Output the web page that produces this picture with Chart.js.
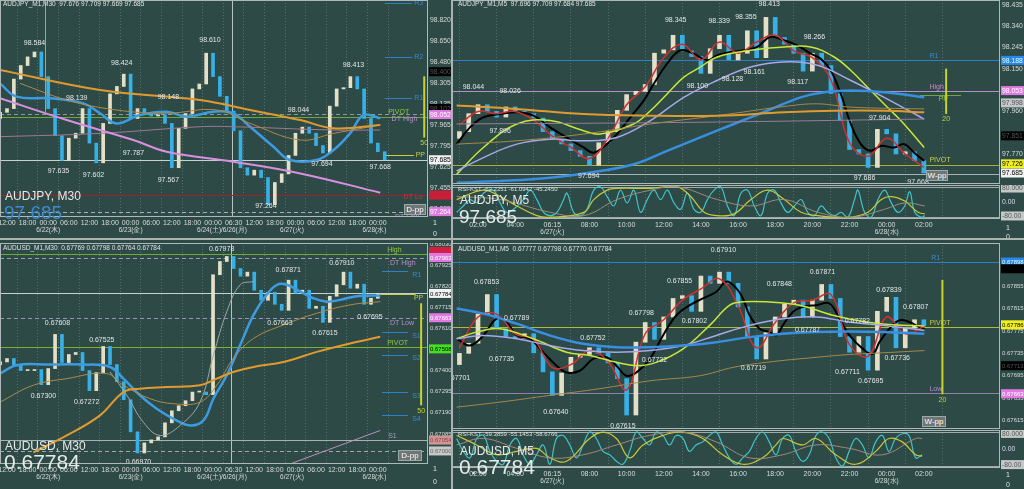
<!DOCTYPE html>
<html>
<head>
<meta charset="utf-8">
<script src="https://cdn.jsdelivr.net/npm/chart.js@4.4.0/dist/chart.umd.min.js"></script>
<style>
  body { margin:0; width:1024px; height:489px; background:#2d4a47; overflow:hidden; position:relative; font-family:"Liberation Sans", Arial, sans-serif; }
  canvas { position:absolute; }
  .t { position:absolute; color:#e6eae8; white-space:nowrap; z-index:5; }
  .hd { font-size:6.5px; color:#dfe3e1; }
  .sym { font-size:12px; }
  .big { font-size:19px; line-height:19px; }
  .box { position:absolute; background:#6f7675; color:#fff; font-size:8px; text-align:center; z-index:5; border:1px solid #9aa; }
  .sep { position:absolute; background:#a9b3b2; z-index:6; }
</style>
</head>
<body>
<canvas id="cA" width="452" height="238" style="left:0px;top:0px"></canvas>
<canvas id="cB" width="572" height="184" style="left:452px;top:0px"></canvas>
<canvas id="cBo" width="572" height="51" style="left:452px;top:185px"></canvas>
<canvas id="cC" width="452" height="242" style="left:0px;top:243px"></canvas>
<canvas id="cD" width="572" height="186" style="left:452px;top:243px"></canvas>
<canvas id="cDo" width="572" height="55" style="left:452px;top:430px"></canvas>

<div class="sep" style="left:0px;top:238px;width:1024px;height:2px"></div>
<div class="sep" style="left:451px;top:0px;width:2px;height:489px"></div>

<div class="t hd" style="left:3px;top:0px">AUDJPY_M1,M30&nbsp; 97.676 97.709 97.669 97.685</div>
<div class="t sym" style="left:5px;top:189px">AUDJPY, M30</div>
<div class="t big" style="left:4px;top:203px;color:#3a8bd6">97.685</div>
<div class="t hd" style="left:433px;top:219px;font-size:7px">1</div>
<div class="t hd" style="left:433px;top:230px;font-size:7px">0</div>
<div class="box" style="left:404px;top:204px;width:20px;height:9px;line-height:9px">D-pp</div>

<div class="t hd" style="left:458px;top:0px">AUDJPY_M1,M5&nbsp; 97.696 97.709 97.684 97.685</div>
<div class="t hd" style="left:458px;top:186px;font-size:6px">RSI-KST -63.2251 -61.0942 -45.2450</div>
<div class="t sym" style="left:460px;top:193px">AUDJPY, M5</div>
<div class="t big" style="left:459px;top:207px">97.685</div>
<div class="box" style="left:926px;top:170px;width:20px;height:9px;line-height:9px">W-pp</div>
<div class="t hd" style="left:1006px;top:224px;font-size:7px">1</div>
<div class="t hd" style="left:1006px;top:233px;font-size:7px">0</div>

<div class="t hd" style="left:3px;top:244px">AUDUSD_M1,M30&nbsp; 0.67769 0.67798 0.67764 0.67784</div>
<div class="t sym" style="left:5px;top:439px">AUDUSD, M30</div>
<div class="t big" style="left:4px;top:452px;font-size:21px">0.67784</div>
<div class="box" style="left:398px;top:450px;width:22px;height:9px;line-height:9px">D-pp</div>
<div class="t hd" style="left:433px;top:465px;font-size:7px">1</div>
<div class="t hd" style="left:433px;top:478px;font-size:7px">0</div>

<div class="t hd" style="left:458px;top:245px">AUDUSD_M1,M5&nbsp; 0.67777 0.67798 0.67770 0.67784</div>
<div class="t hd" style="left:458px;top:431px;font-size:6px">RSI-KST -59.3859 -55.1453 -58.6766</div>
<div class="t sym" style="left:460px;top:444px">AUDUSD, M5</div>
<div class="t big" style="left:459px;top:457px;font-size:21px">0.67784</div>
<div class="box" style="left:922px;top:416px;width:22px;height:9px;line-height:9px">W-pp</div>
<div class="t hd" style="left:1006px;top:471px;font-size:7px">1</div>
<div class="t hd" style="left:1006px;top:481px;font-size:7px">0</div>

<script>
const FONT = '"Liberation Sans", Arial, sans-serif';
const CANDLE_UP = '#e4e0c8';
const CANDLE_DN = '#38b0e6';

// ---------- time axes (hours) ----------
const m30TickHours = [0, 6, 12, 18, 24, 30, 36, 42, 48, 54, 60, 66, 72, 78, 84, 90, 96, 102, 108];
const m30TickLabels = ['12:00','18:00','00:00','06:00','12:00','18:00','00:00','06:00','12:00','18:00','00:00','06:30','12:00','18:00','00:00','06:00','12:00','18:00','00:00'];
const m30DateHours = [12, 36, 62.6, 83, 107];
const m30DateLabels = ['6/22(木)', '6/23(金)', '6/24(土)/6/26(月)', '6/27(火)', '6/28(水)'];

const m5TickHours = [2, 4, 6, 8, 10, 12, 14, 16, 18, 20, 22, 24, 26];
const m5TickLabels = ['02:00','04:00','06:15','08:00','10:00','12:00','14:00','16:00','18:00','20:00','22:00','00:00','02:00'];
const m5DateHours = [6, 24];
const m5DateLabels = ['6/27(火)', '6/28(水)'];

// ---------- AUDJPY M30 ----------
const ajM30Hours = [-2,0,2,4,6,8,10,12,14,16,18,20,22,24,26,28,30,32,34,36,38,40,42,44,46,48,50,52,54,56,58,60,62,64,66,68,70,72,74,76,78,80,82,84,86,88,90,92,94,96,98,100,102,104,106,108,110];
const ajM30Close = [98.07,98.10,98.34,98.45,98.52,98.56,98.36,98.10,97.88,97.68,97.86,97.90,98.10,97.82,97.66,97.98,98.22,98.28,98.38,98.02,98.10,98.06,98.04,98.05,97.98,97.62,97.94,98.06,98.26,98.30,98.55,98.36,98.20,98.08,97.92,97.62,97.56,97.60,97.54,97.32,97.50,97.57,97.72,97.90,97.95,97.90,97.80,97.74,98.12,98.26,98.27,98.36,98.26,98.02,97.82,97.75,97.685];
const ajM30Orange = { h: [-2.04,27.1,56.2,70.8,85.4,95.1,108.7], v: [98.414,98.251,98.170,98.089,98.007,97.940,97.967] };
const ajM30Pink = { h: [-2.04,17.4,36.8,46.5,65.9,85.4,108.7], v: [98.184,98.007,97.845,97.750,97.669,97.574,97.417] };
const ajM30Blue = { h: [-2.04,2.8,12.5,22.2,27.1,31.9,38.7,46.5,52.3,60.1,65.9,70.8,77.6,82.4,90.2,95.1,99.9,103.8,108.7],
                    v: [98.305,98.197,98.184,98.143,98.062,97.980,98.048,98.075,98.035,98.075,98.062,97.953,97.791,97.683,97.683,97.764,97.899,98.048,98.021] };
const ajM30Tan = { h: [3.8,17.4,31.9,46.5,61.1,70.8,85.4,95.1,108.7], v: [98.305,98.170,98.089,98.062,98.089,97.980,97.845,97.899,97.967] };
const ajM30Purple = { h: [-2.04,27.1,56.2,65.9,95.1,108.7], v: [97.872,97.899,97.953,97.953,97.926,97.926] };
const ajM30YTicks = [98.820,98.650,98.480,98.305,98.135,97.965,97.795,97.625,97.455,97.285];
const ajM30LevelVals = [98.955,98.516,98.189,98.054,98.035,97.726,97.685,97.398,97.263];
const ajM30LevelNames = ['R3','R2','R1','DT High','PIVOT','PP','','DT Lo','DT Low'];
const ajM30PeakHours = [8,20.3,33.4,47,59.1,84.9,100.9,15,25.2,36.8,47,75.4,91.7,108.7];
const ajM30PeakVals = [98.584,98.139,98.424,98.148,98.610,98.044,98.413,97.635,97.602,97.787,97.567,97.264,97.694,97.668];
const ajM30PeakUp = [1,1,1,1,1,1,1,0,0,0,0,1,0,0];
const ajM30TagVals = [98.400,98.102,98.052,97.685,97.398,97.264];
const ajM30Range = { h: 121.5, from: 98.362, to: 97.865, text: '50' };

// ---------- AUDJPY M5 ----------
const ajM5Hours = [1,1.5,2,2.5,3,3.5,4,4.5,5,5.5,6,6.5,7,7.5,8,8.5,9,9.5,10,10.5,11,11.5,12,12.5,13,13.5,14,14.5,15,15.5,16,16.5,17,17.5,18,18.5,19,19.5,20,20.5,21,21.5,22,22.5,23,23.5,24,24.5,25,25.5,26];
const ajM5Close = [97.87,97.95,97.99,97.96,97.935,97.98,97.96,97.95,97.93,97.87,97.835,97.815,97.785,97.76,97.72,97.82,97.87,97.965,98.035,98.05,98.08,98.22,98.235,98.30,98.23,98.205,98.13,98.24,98.30,98.19,98.22,98.32,98.20,98.38,98.29,98.26,98.22,98.14,98.22,98.165,98.04,97.92,97.79,97.77,97.71,97.88,97.86,97.77,97.78,97.74,97.685];
const ajM5Black = { h: [0.85,1.57,2.29,3.19,4.09,4.99,5.88,6.78,7.68,8.22,8.94,9.48,10.2,10.92,11.46,12.18,12.9,13.61,14.33,14.87,15.59,16.31,17.03,17.75,18.47,19.19,19.91,20.45,20.99,21.53,22.07,22.61,23.14,23.68,24.4,24.94,25.48,26.02],
                    v: [97.814,97.889,97.934,97.948,97.956,97.941,97.889,97.844,97.799,97.776,97.814,97.859,97.934,98.008,98.083,98.173,98.233,98.218,98.188,98.210,98.225,98.233,98.248,98.293,98.278,98.255,98.218,98.195,98.143,98.038,97.904,97.814,97.784,97.806,97.799,97.814,97.776,97.739] };
const ajM5Red = { h: [1,2,3,4,5,6,7,8,9,10,11,12,13,14,15,16,17,18,19,20,21,22,23,24,25,26],
                  v: [97.90,97.96,97.95,97.96,97.92,97.85,97.80,97.75,97.84,97.99,98.07,98.20,98.26,98.19,98.27,98.22,98.27,98.30,98.23,98.20,98.10,97.82,97.76,97.84,97.77,97.71] };
const ajM5Lime = { h: [0.85,2.29,4.09,5.88,7.68,8.58,10.38,11.28,12.18,13.08,13.97,14.87,16.67,18.47,19.91,21.17,22.07,22.97,23.86,24.76,26.02],
                   v: [97.679,97.799,97.904,97.919,97.874,97.859,97.904,97.963,98.038,98.113,98.158,98.203,98.233,98.248,98.248,98.203,98.143,98.068,97.993,97.919,97.799] };
const ajM5Lavender = { h: [0.85,2.29,4.09,5.88,7.68,9.48,11.28,13.08,14.87,16.67,18.47,20.27,22.07,23.86,26.02],
                       v: [97.694,97.754,97.814,97.836,97.829,97.844,97.919,98.023,98.098,98.158,98.181,98.166,98.098,98.023,97.926] };
const ajM5Blue = { h: [0.85,3.19,5.88,8.58,10.38,12.18,13.97,15.77,17.57,19.37,20.63,22.07,23.86,26.02],
                   v: [97.642,97.649,97.664,97.694,97.724,97.784,97.844,97.904,97.963,98.023,98.046,98.053,98.046,98.023] };
const ajM5Orange = { h: [0.85,4.09,7.68,11.28,14.87,18.47,21.17,23.86,26.02], v: [97.986,97.971,97.948,97.941,97.941,97.956,97.963,97.963,97.956] };
const ajM5Brown = { h: [0.85,4.09,7.68,11.28,14.87,18.47,20.27,22.07,26.02], v: [97.814,97.829,97.859,97.904,97.941,97.982,97.994,97.979,97.971] };
const ajM5Purple = { h: [0.85,13.08,26.02], v: [97.904,97.911,97.926] };
const ajM5YTicks = [98.435,98.340,98.245,98.150,97.960,97.770];
const ajM5LevelVals = [98.188,98.053,98.035,97.721,97.682];
const ajM5LevelNames = ['R1','High','PP','PIVOT',''];
const ajM5PeakHours = [1.75,3.73,3.19,7.96,12.64,13.81,14.98,15.7,16.42,16.87,17.68,19.21,20.11,23.62,22.81,25.69];
const ajM5PeakVals = [98.044,98.026,97.896,97.694,98.345,98.100,98.339,98.128,98.355,98.161,98.413,98.117,98.266,97.904,97.686,97.668];
const ajM5PeakUp = [1,1,0,0,1,0,1,0,1,0,1,0,1,1,0,0];
const ajM5TagVals = [98.188,98.053,97.998,97.851,97.726,97.685];
const ajM5Range = { h: 27.2, from: 98.151, to: 97.949, text: '20' };
const ajM5OscCyan = { h: [0.85,1.21,1.57,1.93,2.29,2.83,3.19,3.55,3.91,4.45,4.81,5.17,5.53,5.89,6.25,6.61,6.79,7.15,7.51,7.87,8.23,8.59,8.95,9.31,9.67,10.03,10.39,10.75,11.11,11.47,11.83,12.19,12.55,12.91,13.27,13.63,13.99,14.35,14.71,15.07,15.43,15.79,16.15,16.51,16.87,17.23,17.59,17.95,18.31,18.67,19.03,19.39,19.75,20.11,20.47,20.83,21.19,21.55,21.91,22.27,22.45,22.81,23.17,23.53,23.89,24.25,24.61,24.97,25.24,25.51,25.87,26.05],
                      v: [16,37,58,47,79,89,47,16,26,58,89,58,16,5,16,58,79,16,5,26,89,100,68,37,89,47,89,16,58,89,58,89,47,26,79,26,16,58,89,100,37,5,79,89,37,5,79,89,47,16,37,58,16,5,37,16,5,16,0,58,89,16,0,58,89,47,16,37,84,16,0,5] };
const ajM5OscYellow = { h: [0.85,2.29,3.19,4.09,5.17,5.89,7.69,8.23,8.95,9.49,11.29,12.73,13.45,14.17,14.89,15.79,16.69,17.59,18.49,19.39,20.29,21.19,22.09,22.99,23.71,24.25,24.97,25.69,26.05],
                        v: [58,89,68,37,5,0,16,58,89,95,95,100,68,16,5,11,58,89,58,16,5,0,0,16,58,68,53,16,11] };
const ajM5OscGray = { h: [0.85,3.19,5.89,7.69,9.49,11.29,12.73,14.89,16.69,18.49,20.29,22.09,23.89,24.97,26.05],
                      v: [68,58,16,5,58,89,100,58,37,58,16,0,26,47,37] };

// ---------- AUDUSD M30 ----------
const auM30Hours = [-2,0,2,4,6,8,10,12,14,16,18,20,22,24,26,28,30,32,34,36,38,40,42,44,46,48,50,52,54,56,58,60,62,64,66,68,70,72,74,76,78,80,82,84,86,88,90,92,94,96,98,100,102,104,106,108];
const auM30Close = [0.67443,0.67460,0.67427,0.67400,0.67400,0.67405,0.67330,0.67410,0.67580,0.67440,0.67480,0.67490,0.67400,0.67300,0.67390,0.67520,0.67430,0.67345,0.67255,0.67095,0.66990,0.67040,0.67055,0.67070,0.67140,0.67200,0.67225,0.67250,0.67293,0.67293,0.67280,0.67877,0.67943,0.67968,0.67908,0.67870,0.67890,0.67800,0.67750,0.67790,0.67730,0.67700,0.67850,0.67785,0.67800,0.67710,0.67720,0.67640,0.67770,0.67827,0.67890,0.67810,0.67830,0.67730,0.67760,0.67784];
const auM30Blue = { h: [-2.04,2.82,12.5,22.2,30,33.9,38.7,43.6,48.5,53.3,57.2,60.1,64,67.9,71.8,75.6,78.6,81.5,85.4,89.2,93.1,97,100.9,104.8,108.7],
                    v: [0.67385,0.67427,0.67430,0.67430,0.67418,0.67360,0.67277,0.67210,0.67160,0.67127,0.67152,0.67260,0.67377,0.67527,0.67677,0.67777,0.67827,0.67827,0.67793,0.67760,0.67743,0.67752,0.67768,0.67773,0.67773] };
const auM30Orange = { h: [7.67,17.4,27.1,33.9,38.7,46.5,56.2,61.1,65.9,71.8,80.5,90.2,99.9,108.7],
                      v: [0.66993,0.67077,0.67177,0.67293,0.67310,0.67318,0.67327,0.67360,0.67393,0.67418,0.67443,0.67493,0.67535,0.67568] };
const auM30Tan = { h: [-2.04,7.67,17.4,29,33.9,41.7,48.5,56.2,61.1,65.9,71.8,80.5,90.2,99.9,108.7],
                   v: [0.67243,0.67327,0.67360,0.67385,0.67327,0.67260,0.67235,0.67243,0.67327,0.67460,0.67560,0.67627,0.67685,0.67727,0.67743] };
const auM30Gray = { h: [30,34.9,39.7,44.6,50.4,56.2,60.1,64,67.9,71.8], v: [0.67393,0.67277,0.67143,0.67077,0.67127,0.67243,0.67477,0.67693,0.67827,0.67843] };
const auM30Pink = { h: [82.4,108.7], v: [0.66935,0.67102] };
const auM30YTicks = [0.68030,0.67925,0.67820,0.67715,0.67610,0.67505,0.67400,0.67295,0.67190,0.67085];
const auM30LevelVals = [0.67980,0.67960,0.67897,0.67784,0.67780,0.67663,0.67593,0.67518,0.67480,0.67293,0.67180,0.67055,0.67000];
const auM30LevelNames = ['High','DT High','R1','','PP','DT Low','S1','PIVOT','S2','S3','S4','S1',''];
const auM30PeakHours = [14.7,10.6,27.6,23.2,38.3,62.5,81.9,79.5,92.6,97.5,105.7];
const auM30PeakVals = [0.67608,0.67300,0.67525,0.67272,0.66970,0.67978,0.67871,0.67663,0.67615,0.67910,0.67695];
const auM30PeakUp = [1,0,1,0,0,1,1,0,0,1,0];
const auM30TagVals = [0.67993,0.67963,0.67784,0.67663,0.67508,0.67054,0.67000];
const auM30Range = { h: 120.6, from: 0.67735, to: 0.67227, text: '50' };

// ---------- AUDUSD M5 ----------
const auM5Hours = ajM5Hours;
const auM5Close = [0.67735,0.67753,0.67805,0.67840,0.67779,0.67765,0.67762,0.67770,0.67736,0.67702,0.67660,0.67700,0.67728,0.67733,0.67745,0.67735,0.67718,0.67690,0.67625,0.67755,0.67790,0.67760,0.67800,0.67833,0.67838,0.67810,0.67873,0.67860,0.67880,0.67860,0.67818,0.67765,0.67725,0.67772,0.67800,0.67823,0.67830,0.67800,0.67830,0.67858,0.67833,0.67765,0.67737,0.67765,0.67705,0.67810,0.67835,0.67745,0.67780,0.67795,0.67784];
const auM5Black = { h: [0.85,1.57,2.29,3,3.54,4.08,4.8,5.51,6.23,6.77,7.48,8.2,8.92,9.45,9.99,10.53,11.25,11.96,12.68,13.4,14.11,14.83,15.37,15.91,16.26,16.62,17.16,17.7,18.06,18.41,18.95,19.49,20.21,20.92,21.46,22,22.72,23.25,23.61,24.15,24.69,25.22,25.76,26.03],
                    v: [0.67761,0.67749,0.67767,0.67797,0.67791,0.67767,0.67761,0.67737,0.67713,0.67701,0.67704,0.67725,0.67728,0.67713,0.67695,0.67701,0.67725,0.67767,0.67803,0.67821,0.67833,0.67845,0.67863,0.67851,0.67833,0.67803,0.67779,0.67773,0.67767,0.67785,0.67809,0.67818,0.67821,0.67824,0.67797,0.67767,0.67743,0.67734,0.67755,0.67779,0.67794,0.67791,0.67782,0.67779] };
const auM5Red = { h: [1,2,3,4,5,6,7,8,9,10,11,12,13,14,15,16,17,18,19,20,21,22,23,24,25,26],
                  v: [0.67745,0.67800,0.67805,0.67770,0.67760,0.67710,0.67715,0.67740,0.67720,0.67670,0.67770,0.67795,0.67830,0.67850,0.67868,0.67820,0.67745,0.67790,0.67825,0.67830,0.67840,0.67750,0.67730,0.67800,0.67770,0.67783] };
const auM5Lime = { h: [0.85,1.93,3.18,4.97,6.77,8.02,9.45,10.53,11.6,13.04,14.47,15.55,16.26,17.52,19.31,21.1,22.89,24.33,26.03],
                   v: [0.67761,0.67773,0.67779,0.67761,0.67737,0.67731,0.67719,0.67713,0.67719,0.67743,0.67785,0.67821,0.67827,0.67827,0.67821,0.67803,0.67791,0.67786,0.67784] };
const auM5Lavender = { h: [0.85,2.29,4.08,5.87,7.66,9.45,11.25,13.04,14.83,16.62,18.41,20.21,22,23.79,26.03],
                       v: [0.67761,0.67767,0.67761,0.67749,0.67740,0.67737,0.67740,0.67749,0.67767,0.67785,0.67797,0.67800,0.67791,0.67785,0.67776] };
const auM5Blue = { h: [0.85,2.29,4.08,5.87,7.66,9.45,11.25,13.04,14.83,16.62,18.41,20.21,22,23.79,26.03],
                   v: [0.67815,0.67806,0.67788,0.67767,0.67752,0.67746,0.67746,0.67749,0.67755,0.67764,0.67770,0.67773,0.67774,0.67773,0.67770] };
const auM5Brown = { h: [0.85,3.18,5.87,8.56,11.25,13.93,15.73,17.52,20.21,22,23.79,26.03],
                    v: [0.67639,0.67648,0.67660,0.67672,0.67686,0.67695,0.67710,0.67719,0.67728,0.67733,0.67736,0.67740] };
const auM5YTicks = [0.67855,0.67815,0.67775,0.67735,0.67695,0.67655,0.67615];
const auM5LevelVals = [0.67898,0.67782,0.67664];
const auM5LevelNames = ['R1','PIVOT','Low'];
const auM5PeakHours = [2.46,0.9,4.08,3.27,8.19,6.19,9.8,10.79,11.5,12.85,13.65,15.21,16.82,18.22,19.74,20.54,22.42,21.89,23.14,24.12,24.57,25.56];
const auM5PeakVals = [0.67853,0.67701,0.67789,0.67735,0.67752,0.67640,0.67615,0.67798,0.67732,0.67855,0.67802,0.67910,0.67719,0.67848,0.67787,0.67871,0.67782,0.67711,0.67695,0.67839,0.67736,0.67807];
const auM5PeakUp = [1,0,1,0,1,0,0,1,0,1,0,1,0,1,0,1,1,0,0,1,0,1];
const auM5TagVals = [0.67898,0.67886,0.67786,0.67713,0.67663];
const auM5Range = { h: 27.0, from: 0.67866, to: 0.67662, text: '20' };
const auM5OscCyan = { h: [0.85,1.21,1.57,1.93,2.29,2.64,3,3.36,3.72,4.08,4.43,4.79,5.15,5.51,5.87,6.22,6.58,6.94,7.3,7.66,8.01,8.37,8.73,9.09,9.45,9.8,10.16,10.52,10.88,11.24,11.59,11.95,12.31,12.67,13.03,13.38,13.74,14.1,14.46,14.82,15.17,15.53,15.89,16.25,16.61,16.96,17.32,17.68,18.04,18.4,18.75,19.11,19.47,19.83,20.19,20.54,20.9,21.26,21.62,21.98,22.33,22.69,23.05,23.41,23.77,24.12,24.48,24.84,25.2,25.56,25.91],
                      v: [81,43,24,81,90,43,14,5,62,81,33,5,33,62,5,81,90,62,24,62,100,81,43,33,14,5,43,100,81,62,100,90,62,90,81,43,62,71,90,100,62,24,5,24,43,81,100,71,33,81,90,43,14,33,90,100,81,24,0,43,81,62,24,71,90,43,81,95,90,24,33] };
const auM5OscYellow = { h: [0.85,1.93,3,4.08,5.15,5.87,6.76,8.01,8.73,9.45,10.16,10.88,11.95,13.03,14.1,15.17,16.25,17.32,18.04,18.4,19.47,20.19,21.26,22.33,23.41,24.12,24.84,25.56,25.91],
                        v: [90,62,33,43,52,24,14,81,100,81,24,62,90,100,81,33,5,24,62,81,62,81,33,5,43,81,71,33,29] };
const auM5OscGray = { h: [0.85,2.29,4.08,5.87,7.66,9.45,11.24,13.03,14.82,16.61,18.4,20.19,21.98,23.77,25.56,25.91],
                      v: [62,81,52,24,33,62,90,100,71,24,33,62,52,33,81,81] };

// ---------- styles ----------
const BLUE_LVL = '#2f80c8';
const ajM30LevelStyle = [
  { c: BLUE_LVL, h0: 110, h1: 118, lh: 118.6, dy: 0, lc: '#3a8ad0' },
  { c: BLUE_LVL, h0: 110, h1: 118, lh: 118.6, dy: 0, lc: '#3a8ad0' },
  { c: BLUE_LVL, h0: 110, h1: 118, lh: 118.6, dy: 0, lc: '#3a8ad0' },
  { c: '#8f96a0', dash: [4, 3], lh: 112, dy: 5, lc: '#b890d0' },
  { c: '#6fa83a', lh: 111, dy: -5, lc: '#8cc840' },
  { c: '#c8d040', h0: 109.5, h1: 118.5, lh: 119, dy: 0, lc: '#c8d040' },
  { c: '#c8d0d0' },
  { c: '#a0202c', lh: 115.5, dy: 2, lc: '#d03040' },
  { c: '#b0b0b8', dash: [4, 3], lh: 113, dy: 5, lc: '#b890d0' }
];
const ajM30TagStyle = [
  { bg: '#000', fg: '#555' }, { bg: '#000', fg: '#555' }, { bg: '#e07ae0', fg: '#fff' },
  { bg: '#f2f2f2', fg: '#000' }, { bg: '#c8203a', fg: '#c8203a' }, { bg: '#e07ae0', fg: '#fff' }
];
const ajM5LevelStyle = [
  { c: BLUE_LVL, lh: 26.3, dy: -4, lc: '#3a8ad0' },
  { c: '#b090c8', lh: 26.3, dy: -4, lc: '#d080d8' },
  { c: '#6fa83a', h0: 25.8, h1: 28, lh: 26.8, dy: 4, lc: '#8cc840' },
  { c: '#a8b030', lh: 26.3, dy: -5, lc: '#d0d040' },
  { c: '#a8b0b0' }
];
const ajM5TagStyle = [
  { bg: '#2a86e8', fg: '#dfe' }, { bg: '#e07ae0', fg: '#fff' }, { bg: '#c4c8c8', fg: '#555' },
  { bg: '#000', fg: '#555' }, { bg: '#f0f020', fg: '#000' }, { bg: '#f2f2f2', fg: '#000' }
];
const auM30LevelStyle = [
  { c: '#6fa83a', lh: 110.7, dy: -4, lc: '#8cc840' },
  { c: '#9aa0ac', dash: [4, 3], lh: 111.5, dy: 5, lc: '#b890d0' },
  { c: BLUE_LVL, h0: 109.2, h1: 116.8, lh: 118, dy: 4, lc: '#3a8ad0' },
  { c: '#c8d0d0' },
  { c: '#c8d040', h0: 108.7, h1: 119, lh: 118.5, dy: 4, lc: '#c8d040' },
  { c: '#a090c0', dash: [4, 3], lh: 111.5, dy: 5, lc: '#b890d0' },
  { c: BLUE_LVL, h0: 109.2, h1: 116.8, lh: 118, dy: 4, lc: '#3a8ad0' },
  { c: '#7ab030', lh: 110.7, dy: -4, lc: '#8cc840' },
  { c: BLUE_LVL, h0: 109.2, h1: 116.8, lh: 118, dy: 4, lc: '#3a8ad0' },
  { c: BLUE_LVL, h0: 109.2, h1: 116.8, lh: 118, dy: 4, lc: '#3a8ad0' },
  { c: BLUE_LVL, h0: 109.2, h1: 116.8, lh: 118, dy: 4, lc: '#3a8ad0' },
  { c: '#a8b0b0', lh: 111, dy: -4, lc: '#9aa' },
  { c: '#a0a8a8', dash: [4, 3] }
];
const auM30TagStyle = [
  { bg: '#d02040', fg: '#d02040' }, { bg: '#e07ae0', fg: '#fff' }, { bg: '#f2f2f2', fg: '#000' },
  { bg: '#e07ae0', fg: '#fff' }, { bg: '#44e020', fg: '#000' }, { bg: '#d09494', fg: '#844' }, { bg: '#c8c8c8', fg: '#666' }
];
const auM5LevelStyle = [
  { c: BLUE_LVL, lh: 26.4, dy: -4, lc: '#3a8ad0' },
  { c: '#b0b840', lh: 26.3, dy: -4, lc: '#c8c840' },
  { c: '#9080b0', lh: 26.3, dy: -4, lc: '#b890d0' }
];
const auM5TagStyle = [
  { bg: '#2a86e8', fg: '#dfe' }, { bg: '#000', fg: '#000' }, { bg: '#f0f020', fg: '#000' },
  { bg: '#000', fg: '#555' }, { bg: '#e07ae0', fg: '#fff' }
];
const oscTagVals = [96, 50, 4];
const oscTagText = ['80.000', '0.00', '-80.00'];
const oscTagStyle = [{ bg: '#c4c8c8', fg: '#555' }, { bg: null, fg: '#dde' }, { bg: '#c4c8c8', fg: '#555' }];

// ---------- helpers ----------
function line(src, color, width) {
  return { type: 'line', order: 1, data: src.h.map((h, i) => ({ x: h, y: src.v[i] })),
    borderColor: color, borderWidth: width, pointRadius: 0, tension: 0.4, fill: false };
}
function candles(hours, closes, open0, bw) {
  return { type: 'bar', order: 5, barThickness: bw, grouped: false, borderWidth: 0, minBarLength: 1,
    data: hours.map((h, i) => ({ x: h, y: [i ? closes[i - 1] : open0, closes[i]] })),
    backgroundColor: c => { const r = c.raw; return r && r.y[1] >= r.y[0] ? CANDLE_UP : CANDLE_DN; } };
}
function levels(vals, names, styles) {
  return vals.map((v, i) => Object.assign({ v, t: names[i] }, styles[i]));
}
function peaks(hs, vs, ups) { return hs.map((h, i) => ({ h, v: vs[i], up: ups[i] })); }
function tags(vals, styles, texts, dec) {
  return vals.map((v, i) => Object.assign({ v, t: texts ? texts[i] : v.toFixed(dec) }, styles[i]));
}

function overlay(o) {
  const axisFont = (o.dec > 3 ? '6px ' : '6.8px ') + FONT;
  return {
    id: 'overlay',
    beforeDatasetsDraw(chart) {
      const { ctx, chartArea: a, scales: { x, y } } = chart;
      ctx.save();
      ctx.beginPath(); ctx.rect(a.left, a.top, a.right - a.left, a.bottom - a.top); ctx.clip();
      (o.vlines || []).forEach(vl => {
        const px = Math.round(x.getPixelForValue(vl.h)) + 0.5;
        ctx.strokeStyle = vl.c; ctx.lineWidth = 1; ctx.setLineDash([]);
        ctx.beginPath(); ctx.moveTo(px, a.top);
        ctx.lineTo(px, vl.to == null ? a.bottom : y.getPixelForValue(vl.to)); ctx.stroke();
      });
      (o.levels || []).forEach(l => {
        const py = Math.round(y.getPixelForValue(l.v)) + 0.5;
        const x0 = l.h0 == null ? a.left : x.getPixelForValue(l.h0);
        const x1 = l.h1 == null ? a.right : x.getPixelForValue(l.h1);
        ctx.strokeStyle = l.c; ctx.lineWidth = 1; ctx.setLineDash(l.dash || []);
        ctx.beginPath(); ctx.moveTo(x0, py); ctx.lineTo(x1, py); ctx.stroke();
      });
      ctx.restore();
    },
    afterDatasetsDraw(chart) {
      const { ctx, chartArea: a, scales: { x, y } } = chart;
      ctx.save();
      ctx.beginPath(); ctx.rect(a.left, a.top, a.right - a.left, a.bottom - a.top); ctx.clip();
      ctx.font = '7px ' + FONT; ctx.textAlign = 'center';
      (o.peaks || []).forEach(p => {
        const px = x.getPixelForValue(p.h), py = y.getPixelForValue(p.v);
        ctx.fillStyle = '#e4e8e6';
        ctx.textBaseline = p.up ? 'bottom' : 'top';
        ctx.fillText(p.v.toFixed(o.dec), px, p.up ? py - 2 : py + 2);
      });
      ctx.textAlign = 'left'; ctx.textBaseline = 'middle';
      (o.levels || []).forEach(l => {
        if (!l.t || l.lh == null) return;
        ctx.fillStyle = l.lc;
        ctx.fillText(l.t, x.getPixelForValue(l.lh), y.getPixelForValue(l.v) + l.dy);
      });
      if (o.range) {
        const r = o.range, px = x.getPixelForValue(r.h);
        ctx.strokeStyle = '#c8d428'; ctx.lineWidth = 2;
        ctx.beginPath(); ctx.moveTo(px, y.getPixelForValue(r.from)); ctx.lineTo(px, y.getPixelForValue(r.to)); ctx.stroke();
        ctx.fillStyle = '#c8d428'; ctx.textAlign = 'center'; ctx.textBaseline = 'top';
        ctx.fillText(r.text, px, y.getPixelForValue(r.to) + 2);
      }
      ctx.restore();
    },
    afterDraw(chart) {
      const { ctx, chartArea: a, scales: { x, y } } = chart;
      ctx.save();
      ctx.strokeStyle = '#aeb8b7'; ctx.lineWidth = 1;
      ctx.strokeRect(a.left + 0.5, a.top + 0.5, a.right - a.left - 1, a.bottom - a.top - 1);
      ctx.font = axisFont; ctx.textBaseline = 'middle'; ctx.textAlign = 'left';
      (o.tags || []).forEach(t => {
        const py = y.getPixelForValue(t.v);
        if (t.bg) { ctx.fillStyle = t.bg; ctx.fillRect(a.right + 1, py - 4.5, 24, 9); }
        ctx.fillStyle = t.fg; ctx.fillText(t.t, a.right + 2, py + 0.5);
      });
      if (o.dates) {
        ctx.fillStyle = '#d8dcd8'; ctx.textAlign = 'center'; ctx.font = '6.5px ' + FONT;
        o.dates.h.forEach((h, i) => ctx.fillText(o.dates.t[i], x.getPixelForValue(h), a.bottom + 13));
      }
      ctx.restore();
    }
  };
}

function makeChart(id, o) {
  return new Chart(document.getElementById(id), {
    type: 'bar',
    data: { datasets: o.datasets },
    options: {
      responsive: false, animation: false, events: [],
      layout: { padding: 0 },
      plugins: { legend: { display: false }, tooltip: { enabled: false } },
      scales: {
        x: {
          type: 'linear', min: o.xMin, max: o.xMax, offset: false,
          afterBuildTicks: s => { s.ticks = o.xTicks.map(v => ({ value: v })); },
          afterFit: s => { s.height = o.xHeight; s.paddingLeft = 0; s.paddingRight = 0; },
          ticks: { display: o.xHeight > 0, autoSkip: false, maxRotation: 0, color: '#d8dcd8',
                   font: { size: 7, family: FONT }, padding: 2, callback: (v, i) => o.xLabels[i] },
          grid: { color: 'rgba(170,192,190,0.32)', drawTicks: false, lineWidth: 1 },
          border: { display: false, dash: [1, 2] }
        },
        y: {
          position: 'right', min: o.yMin, max: o.yMax,
          afterBuildTicks: s => { s.ticks = o.yTicks.map(v => ({ value: v })); },
          afterFit: s => { s.width = 24; s.paddingTop = 0; s.paddingBottom = 0; },
          ticks: { display: o.yTicks.length > 0, color: '#d8dcd8', font: { size: o.dec > 3 ? 6 : 6.8, family: FONT },
                   padding: 2, callback: v => v.toFixed(o.dec) },
          grid: { display: false, drawTicks: false }, border: { display: false }
        }
      }
    },
    plugins: [overlay(o)]
  });
}

// ---------- AUDJPY M30 ----------
makeChart('cA', {
  datasets: [
    candles(ajM30Hours, ajM30Close, 98.02, 3),
    line(ajM30Orange, '#e09a30', 2), line(ajM30Pink, '#d890e0', 2), line(ajM30Tan, '#b08a48', 1),
    line(ajM30Purple, '#a07890', 1), line(ajM30Blue, '#3d9be0', 2.5)
  ],
  xMin: -2.04, xMax: 122.6, xTicks: m30TickHours, xLabels: m30TickLabels, xHeight: 21,
  yMin: 97.220, yMax: 98.982, yTicks: ajM30YTicks, dec: 3,
  levels: levels(ajM30LevelVals, ajM30LevelNames, ajM30LevelStyle),
  peaks: peaks(ajM30PeakHours, ajM30PeakVals, ajM30PeakUp),
  tags: tags(ajM30TagVals, ajM30TagStyle, null, 3),
  range: ajM30Range,
  vlines: [{ h: 65.5, c: '#b8c2c2' }, { h: 11, c: '#98a4a4', to: 98.07 }],
  dates: { h: m30DateHours, t: m30DateLabels }
});

// ---------- AUDJPY M5 ----------
makeChart('cB', {
  datasets: [
    candles(ajM5Hours, ajM5Close, 97.84, 4),
    line(ajM5Orange, '#e09a30', 2), line(ajM5Brown, '#a88848', 1), line(ajM5Purple, '#9a7c9a', 1),
    line(ajM5Blue, '#3a8ee0', 2.5), line(ajM5Lavender, '#a8a8e8', 1.5), line(ajM5Lime, '#c8e838', 1.5),
    line(ajM5Red, '#d03030', 1.5), line(ajM5Black, '#000000', 2)
  ],
  xMin: 0.6, xMax: 30.1, xTicks: m5TickHours, xLabels: m5TickLabels, xHeight: 0,
  yMin: 97.636, yMax: 98.4575, yTicks: ajM5YTicks, dec: 3,
  levels: levels(ajM5LevelVals, ajM5LevelNames, ajM5LevelStyle),
  peaks: peaks(ajM5PeakHours, ajM5PeakVals, ajM5PeakUp),
  tags: tags(ajM5TagVals, ajM5TagStyle, null, 3),
  range: ajM5Range
});
makeChart('cBo', {
  datasets: [line(ajM5OscGray, '#a08a78', 1), line(ajM5OscYellow, '#c8c838', 1.2), line(ajM5OscCyan, '#40c4c8', 1.2)],
  xMin: 0.6, xMax: 30.1, xTicks: m5TickHours, xLabels: m5TickLabels, xHeight: 17,
  yMin: -6, yMax: 106, yTicks: [], dec: 2,
  levels: [{ v: 100, c: '#a0aaaa' }, { v: 0, c: '#a0aaaa' }],
  tags: tags(oscTagVals, oscTagStyle, oscTagText, 2),
  dates: { h: m5DateHours, t: m5DateLabels }
});

// ---------- AUDUSD M30 ----------
makeChart('cC', {
  datasets: [
    candles(auM30Hours, auM30Close, 0.67430, 3),
    line(auM30Pink, '#c090c0', 1), line(auM30Orange, '#e09a30', 2), line(auM30Tan, '#b08a48', 1),
    line(auM30Gray, '#a0a8a8', 1), line(auM30Blue, '#3d9be0', 2.5)
  ],
  xMin: -2.04, xMax: 122.6, xTicks: m30TickHours, xLabels: m30TickLabels, xHeight: 21,
  yMin: 0.66935, yMax: 0.68035, yTicks: auM30YTicks, dec: 5,
  levels: levels(auM30LevelVals, auM30LevelNames, auM30LevelStyle),
  peaks: peaks(auM30PeakHours, auM30PeakVals, auM30PeakUp),
  tags: tags(auM30TagVals, auM30TagStyle, null, 5),
  range: auM30Range,
  vlines: [{ h: 65.2, c: '#b8c2c2' }],
  dates: { h: m30DateHours, t: m30DateLabels }
});

// ---------- AUDUSD M5 ----------
makeChart('cD', {
  datasets: [
    candles(auM5Hours, auM5Close, 0.67715, 4),
    line(auM5Brown, '#a88848', 1), line(auM5Blue, '#3a8ee0', 2.5), line(auM5Lavender, '#a8a8e8', 1.5),
    line(auM5Lime, '#c8e838', 1.5), line(auM5Red, '#d03030', 1.5), line(auM5Black, '#000000', 2)
  ],
  xMin: 0.6, xMax: 30.1, xTicks: m5TickHours, xLabels: m5TickLabels, xHeight: 0,
  yMin: 0.67600, yMax: 0.67932, yTicks: auM5YTicks, dec: 5,
  levels: levels(auM5LevelVals, auM5LevelNames, auM5LevelStyle),
  peaks: peaks(auM5PeakHours, auM5PeakVals, auM5PeakUp),
  tags: tags(auM5TagVals, auM5TagStyle, null, 5),
  range: auM5Range
});
makeChart('cDo', {
  datasets: [line(auM5OscGray, '#a08a78', 1), line(auM5OscYellow, '#c8c838', 1.2), line(auM5OscCyan, '#40c4c8', 1.2)],
  xMin: 0.6, xMax: 30.1, xTicks: m5TickHours, xLabels: m5TickLabels, xHeight: 17,
  yMin: -6, yMax: 106, yTicks: [], dec: 2,
  levels: [{ v: 100, c: '#a0aaaa' }, { v: 0, c: '#a0aaaa' }],
  tags: tags(oscTagVals, oscTagStyle, oscTagText, 2),
  dates: { h: m5DateHours, t: m5DateLabels }
});
</script>
</body>
</html>
